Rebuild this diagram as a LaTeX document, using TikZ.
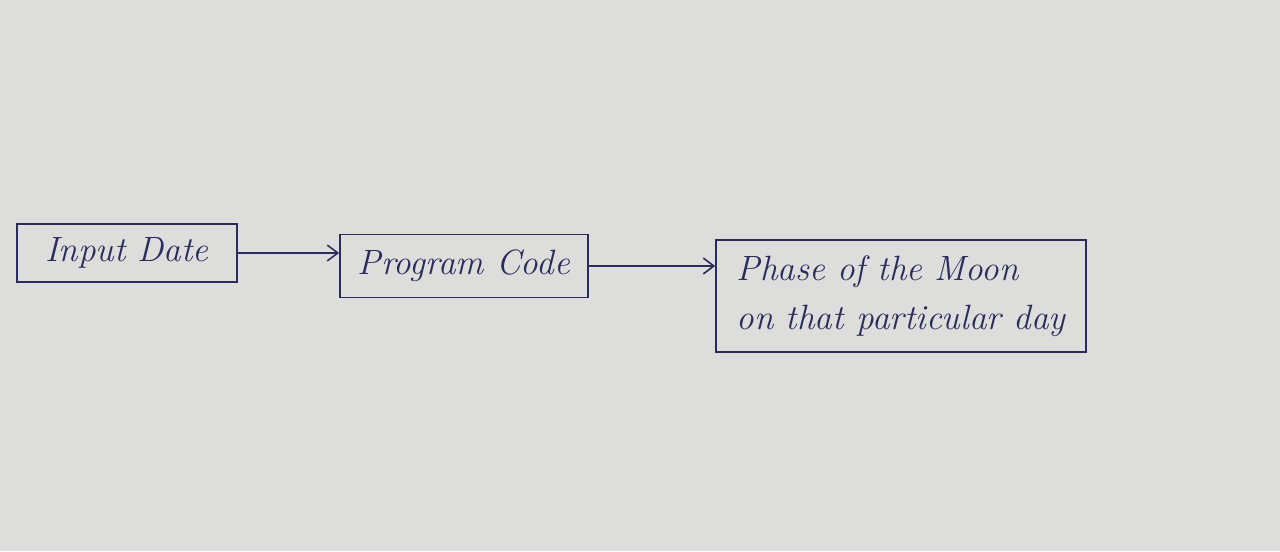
\documentclass[tikz,border=0pt]{standalone}
\usepackage{tikz}
\usetikzlibrary{arrows.meta,positioning,calc}
\usepackage{xcolor}
\definecolor{paper}{HTML}{DDDDDB}
\definecolor{ink}{HTML}{2B2B5C}

\begin{document}
\begin{tikzpicture}[x=0.02cm, y=0.02cm,
  stagebox/.style={draw=ink, line width=1pt, text=ink, align=left, inner sep=5pt,
    font=\fontsize{20}{28}\selectfont\itshape},
  flow/.style={draw=ink, line width=0.9pt, -{Straight Barb[length=6pt,width=9pt]}}]
  \fill[paper] (0,0) rectangle (1280,551);
  \useasboundingbox (0,0) rectangle (1280,551);

  \node[stagebox, minimum width=4.4cm, minimum height=1.16cm] (input) at (127,298) {Input Date};
  \node[stagebox, minimum width=4.96cm, minimum height=1.26cm] (prog) at (464,285) {Program Code};
  \node[stagebox, minimum width=7.4cm, minimum height=2.24cm] (moon) at (901,255)
    {Phase of the Moon\\on that particular day};

  \draw[flow] (input.east) -- (input.east -| prog.west);
  \draw[flow] (prog.east) -- (prog.east -| moon.west);
\end{tikzpicture}
\end{document}
